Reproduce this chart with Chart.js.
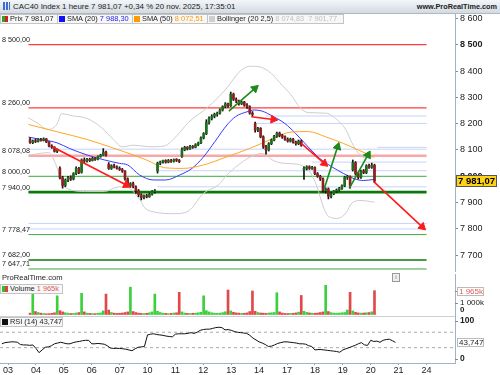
<!DOCTYPE html>
<html>
<head>
<meta charset="utf-8">
<title>CAC40 Index 1 heure</title>
<script src="https://cdn.jsdelivr.net/npm/chart.js@4.4.1/dist/chart.umd.min.js"></script>
<style>
  body { margin:0; width:500px; height:375px; position:relative; overflow:hidden; background:#fff;
         font-family:"Liberation Sans", Arial, sans-serif; color:#222; }
  .abs { position:absolute; }
  #title { left:0; top:0; width:500px; height:14px; box-sizing:border-box; z-index:3;
           background:linear-gradient(#f3f6f9,#d4dae1); border-bottom:1px solid #aeb8c2;
           font-size:7.9px; line-height:13px; }
  #title .ico { position:absolute; left:3px; top:2px; width:7px; height:8px;
                background:linear-gradient(90deg,#3a6fd0 0 2px,transparent 2px 3px,#3a6fd0 3px 5px,transparent 5px 6px,#3a6fd0 6px); }
  #title .txt { position:absolute; left:13px; top:0; }
  #title .site { position:absolute; right:3px; top:0; font-weight:bold; font-size:7.3px; }
  .lg { position:absolute; height:10px; box-sizing:border-box; border:1px solid #c4c4c4; background:#f7f7f7;
        font-size:7.4px; line-height:8px; white-space:nowrap; padding-left:1px; z-index:3; overflow:hidden; }
  .sq { display:inline-block; width:6px; height:6px; margin-right:2px; vertical-align:-0.5px; }
  #site2 { left:2px; top:273px; font-size:7.6px; z-index:3; }
  #info { left:392px; top:273px; width:6px; height:7px; border:1px solid #999; background:#eee;
          font-size:6px; line-height:7px; text-align:center; color:#666; z-index:3; }
</style>
</head>
<body>
<div id="title" class="abs"><span class="ico"></span><span class="txt">CAC40 Index 1 heure 7 981,07 +0,34 % 20 nov. 2025, 17:35:01</span><span class="site">www.ProRealTime.com</span></div>

<div class="abs" style="left:0;top:0;width:500px;height:272px"><canvas id="price"></canvas></div>
<div class="abs" style="left:0;top:272px;width:500px;height:44px"><canvas id="vol"></canvas></div>
<div class="abs" style="left:0;top:316px;width:500px;height:59px"><canvas id="rsi"></canvas></div>

<div class="lg" style="left:0;top:14px;width:58px"><span class="sq" style="background:linear-gradient(90deg,#22a822 50%,#d42020 50%)"></span>Prix 7 981,07</div>
<div class="lg" style="left:57px;top:14px;width:76px"><span class="sq" style="background:#1010ff"></span>SMA (20) <span style="color:#2222ee">7 988,30</span></div>
<div class="lg" style="left:132px;top:14px;width:76px"><span class="sq" style="background:#ff9a00"></span>SMA (50) <span style="color:#ff9a00">8 072,51</span></div>
<div class="lg" style="left:207px;top:14px;width:137px"><span class="sq" style="background:#cfcfcf"></span>Bollinger (20 2,5) <span style="color:#c0c0c0">8 074,83 &nbsp;7 901,77</span></div>

<div id="site2" class="abs">ProRealTime.com</div>
<div id="info" class="abs">i</div>
<div class="lg" style="left:0;top:284px;width:63px"><span class="sq" style="background:linear-gradient(90deg,#22c822 50%,#e04040 50%)"></span>Volume <span style="color:#e05a5a">1 965k</span></div>
<div class="lg" style="left:0;top:317px;width:63px"><span class="sq" style="background:#111"></span>RSI (14) 43,747</div>

<script>
// Hourly bars: 31 oct (2 bars) then 14 sessions of 9 bars, 03 -> 20 nov
const opens = [8140,8128,
  8135,8132,8140,8136,8142,8130,8115,8110,8095,
  8030,7995,7965,7985,7995,7990,8010,8030,8015,
  8062,8058,8065,8060,8068,8064,8075,8080,8092,
  8045,8030,8040,8035,8030,8026,8020,7990,7965,
  7972,7960,7945,7930,7918,7926,7922,7932,7942,
  8020,8050,8055,8060,8054,8060,8057,8063,8061,
  8075,8100,8110,8104,8114,8110,8120,8126,8146,
  8162,8205,8220,8228,8236,8240,8252,8265,8275,
  8268,8312,8292,8286,8276,8282,8270,8264,8240,
  8200,8176,8182,8150,8112,8100,8124,8138,8152,
  8164,8155,8150,8140,8134,8141,8130,8124,8134,
  8024,8030,8036,8030,8034,8010,8000,7990,7946,
  7952,7924,7934,7944,7948,7955,7964,7996,8000,
  8025,8052,8010,7996,8020,8014,8040,8034,8042];
const highs = [8146,8138,
  8142,8143,8144,8146,8144,8132,8120,8113,8104,
  8036,8000,7990,8000,8002,8014,8036,8034,8066,
  8070,8068,8069,8072,8071,8078,8084,8105,8096,
  8052,8044,8046,8040,8036,8030,8022,7994,7976,
  7978,7964,7950,7934,7930,7932,7936,7946,7950,
  8054,8058,8062,8063,8064,8064,8066,8067,8064,
  8108,8114,8113,8118,8117,8124,8130,8150,8166,
  8215,8226,8234,8240,8244,8256,8268,8280,8278,
  8320,8316,8298,8290,8286,8285,8276,8268,8246,
  8206,8186,8185,8154,8118,8128,8142,8156,8168,
  8168,8160,8154,8146,8145,8144,8134,8138,8138,
  8036,8040,8040,8038,8036,8014,8004,7994,7956,
  7956,7938,7946,7952,7958,7968,8000,8004,8002,
  8062,8056,8016,8024,8026,8044,8046,8050,8046];
const lows = [8125,8124,
  8128,8130,8133,8134,8128,8112,8106,8092,8090,
  7990,7955,7960,7980,7984,7986,8006,8010,8012,
  8052,8054,8056,8058,8060,8062,8072,8078,8076,
  8026,8026,8032,8027,8022,8015,7985,7960,7958,
  7956,7935,7922,7910,7914,7918,7920,7928,7936,
  8012,8044,8050,8050,8051,8053,8054,8056,8052,
  8072,8097,8100,8102,8106,8108,8116,8124,8142,
  8158,8198,8214,8222,8228,8236,8248,8260,8262,
  8265,8288,8280,8270,8272,8266,8258,8236,8228,
  8168,8170,8146,8106,8084,8096,8120,8134,8148,
  8150,8144,8136,8130,8130,8126,8118,8120,8114,
  7988,8024,8026,8026,8006,7996,7984,7940,7936,
  7914,7918,7930,7938,7944,7950,7960,7988,7955,
  8020,8005,7990,7992,8010,8010,8030,8030,7976];
const closes = [8128,8135,
  8132,8140,8136,8142,8130,8115,8110,8095,8100,
  7995,7965,7985,7995,7990,8010,8030,8015,8062,
  8058,8065,8060,8068,8064,8075,8080,8092,8080,
  8030,8040,8035,8030,8026,8020,7990,7965,7972,
  7960,7945,7930,7918,7926,7922,7932,7942,7946,
  8050,8055,8060,8054,8060,8057,8063,8061,8056,
  8100,8110,8104,8114,8110,8120,8126,8146,8162,
  8205,8220,8228,8236,8240,8252,8265,8275,8268,
  8312,8292,8286,8276,8282,8270,8264,8240,8235,
  8176,8182,8150,8112,8100,8124,8138,8152,8164,
  8155,8150,8140,8134,8141,8130,8124,8134,8118,
  8030,8036,8030,8034,8010,8000,7990,7946,7952,
  7924,7934,7944,7948,7955,7964,7996,8000,7965,
  8052,8010,7996,8020,8014,8040,8034,8042,7981.07];
// volume in thousands
const volumes = [150,1750,
  280,200,150,120,100,110,130,180,1550,
  350,250,180,150,120,130,160,200,1750,
  250,150,130,120,110,140,170,330,1690,
  400,200,150,130,140,160,200,250,2250,
  280,200,150,130,120,140,180,250,1690,
  300,200,150,130,110,130,160,180,1830,
  250,160,130,120,140,150,180,220,1550,
  350,250,180,150,140,150,190,260,2020,
  330,220,170,150,130,140,170,280,1940,
  300,200,160,150,130,160,180,200,1800,
  250,160,130,120,130,140,170,230,1580,
  300,210,170,150,140,160,200,250,2400,
  280,190,150,140,160,180,200,400,1830,
  330,220,170,150,160,180,200,260,1965];
const rsi = [40,43,
  44,45,45,44,38,37,37,36,37,
  28,17,24,31,32,35,40,42,44,
  42,40,40,43,45,46,48,49,49,
  40,40,41,40,39,35,29,28,28,
  28,27,26,24,22,27,31,32,33,
  63,65,66,64,63,62,60,59,58,
  65,66,66,66,67,69,67,70,75,
  77,78,78,80,82,83,82,76,77,
  75,72,70,69,68,67,62,55,50,
  45,42,38,33,34,37,41,43,45,
  45,44,43,42,40,40,39,35,33,
  24,25,25,24,23,22,21,20,18,
  24,27,30,33,36,40,43,37,36,
  49,46,47,44,49,51,52,48,43.747];

// indicator lines: [bar, value]
const sma20 = [[-0.6,8149],[4,8140],[10,8127],[14.5,8106],[21,8081],[27.5,8062],[33,8049],[36,8043],
  [40.4,8005],[45.5,7986],[50,7986],[55.2,8005],[59.7,8030],[63.9,8073],[68.1,8131],[72.6,8195],
  [75.8,8227],[80,8245],[82.6,8252],[85.5,8248],[89.7,8227],[93.9,8201],[97.8,8164],[102.6,8111],
  [106.8,8068],[111.3,8036],[115.5,8011],[119.7,7990],[122.9,7984],[127,7988.3]];
const sma50 = [[-0.6,8197],[10,8169],[21,8140],[31.6,8104],[38.1,8081],[42.9,8062],[50,8032],
  [56.5,8030],[63.9,8043],[72.6,8074],[81,8106],[89.7,8144],[96.2,8168],[102.6,8170],[109,8150],
  [115.5,8125],[121,8100],[127,8072.51]];
const bollUp = [[-0.6,8222],[2.6,8203],[6.8,8178],[10,8200],[11.6,8238],[15.5,8230],[21,8220],
  [26.2,8186],[30.7,8140],[33.9,8112],[38.1,8118],[44.6,8112],[49.4,8115],[54.2,8155],[58.4,8205],
  [65.5,8262],[72.6,8336],[77,8395],[81,8418],[85,8415],[89,8390],[93,8345],[96.2,8310],[99.4,8262],
  [102.6,8242],[109,8240],[113.3,8214],[116.5,8176],[118.7,8127],[121,8089],[123.6,8070],[127,8074.83]];
const bollLow = [[-0.6,8080],[6.8,8090],[9.7,8040],[11.3,7990],[13.3,7955],[21,7942],[27.5,7942],
  [32.6,7960],[35.8,7958],[40.4,7912],[42.3,7880],[45.5,7865],[53.3,7858],[58.4,7868],[63.9,7935],
  [69.4,7967],[72.6,8005],[76.8,8043],[81,8072],[85.5,8087],[89.7,8060],[93,8050],[96.2,8048],
  [100.4,8040],[103.6,8010],[105.8,7960],[108.1,7885],[110,7848],[113.3,7840],[116.5,7861],
  [118.7,7899],[122,7908],[127,7901.77]];

// drawn levels and trend arrows [bar0, price0, bar1, price1]
const hLevels = [8500, 8260, 8078.08, 8000, 7940, 7778.47, 7682, 7647.71];
const blueLevels = [8229, 8201, 8110, 8103, 8054, 8021, 7960, 7821, 7800];
const blueStart = [87, 83, 128, -0.6, 104, 47, 47, -0.6, -0.6];
const arrowsRed = [[8.4,8111,35.5,7967],[81.6,8226,89.7,8216],[100,8125,108.5,8049],[126.8,7979,144.6,7808]];
const arrowsGreen = [[73.3,8248,82.9,8334],[108.5,7954,113.4,8112],[117.7,7954,124.6,8081]];

const dayLabels = ['03','04','05','06','07','10','11','12','13','14','17','18','19','20','21','24'];
const dayStart = [2,11,20,29,38,47,56,65,74,83,92,101,110,119,128,137];
const priceTicks = [7700,7800,7900,8000,8100,8200,8300,8400,8500,8600];

// styles
const hColors = ['#ff3b3b','#ff3b3b','#f6a8a8','#3da83d','#0a780a','#3da83d','#0a780a','#3da83d'];
const hWidths = [1.2, 1.2, 2.6, 1, 2.6, 1, 1.6, 1];
const UP = '#1f6e1f', DOWN = '#921f1f', VUP = '#3cd03c', VDOWN = '#e24848';
const AXIS = '#a3b2c2';
const FONT = '"Liberation Sans", Arial, sans-serif';
const X_MIN = -0.6, X_MAX = 146.2;

Chart.defaults.font.family = FONT;
Chart.defaults.font.size = 9;
Chart.defaults.color = '#222';
Chart.defaults.animation = false;
Chart.defaults.layout.autoPadding = false;
Chart.defaults.plugins.legend.display = false;
Chart.defaults.plugins.tooltip.enabled = false;

function fmt(v, d) {
  return v.toFixed(d).replace('.', ',').replace(/\B(?=(\d{3})+(?!\d))/g, ' ');
}
const idx = closes.map((c, i) => i);
const isUp = i => closes[i] >= opens[i];
const pts = arr => arr.map(([x, y]) => ({ x, y }));
const seg = (x0, v) => [{ x: x0, y: v }, { x: X_MAX, y: v }];
// fixed right axis width, no extra room for the outer tick labels
const fitRight = s => { s.width = 45; s.paddingTop = 0; s.paddingBottom = 0; };

function lineDs(data, color, width, order) {
  return { type: 'line', data, borderColor: color, borderWidth: width, pointRadius: 0,
           fill: false, order, cubicInterpolationMode: 'monotone' };
}
function arrowDs(a, color) {
  return {
    type: 'line', data: [{ x: a[0], y: a[1] }, { x: a[2], y: a[3] }],
    borderColor: color, backgroundColor: color, borderWidth: 1.6, order: 0,
    pointRadius: [0, 4.5], pointHoverRadius: 0, pointStyle: 'triangle',
    pointBorderColor: color, pointBorderWidth: 1,
    pointRotation: ctx => {
      const { x, y } = ctx.chart.scales;
      const d = ctx.dataset.data;
      const dx = x.getPixelForValue(d[1].x) - x.getPixelForValue(d[0].x);
      const dy = y.getPixelForValue(d[1].y) - y.getPixelForValue(d[0].y);
      return Math.atan2(dx, -dy) * 180 / Math.PI;
    }
  };
}

// labels of the drawn levels + last price tag
const priceOverlay = {
  id: 'priceOverlay',
  afterDraw(chart) {
    const { ctx, scales: { y } } = chart;
    ctx.save();
    ctx.font = '7.2px ' + FONT;
    ctx.fillStyle = '#222';
    hLevels.forEach(v => ctx.fillText(fmt(v, 2), 2, y.getPixelForValue(v) - 2.5));
    const last = closes[closes.length - 1];
    const py = Math.round(y.getPixelForValue(last));
    ctx.fillStyle = '#ffd21a';
    ctx.fillRect(456, py - 6, 41, 12);
    ctx.strokeStyle = '#555';
    ctx.lineWidth = 1;
    ctx.strokeRect(456.5, py - 5.5, 40, 11);
    ctx.fillStyle = '#000';
    ctx.font = 'bold 9.5px ' + FONT;
    ctx.textBaseline = 'middle';
    ctx.fillText(fmt(last, 2), 458, py + 0.5);
    ctx.restore();
  }
};

const datasets = [];
hLevels.forEach((v, k) => datasets.push(lineDs(seg(X_MIN, v), hColors[k], hWidths[k], 5)));
blueLevels.forEach((v, k) => datasets.push(lineDs(seg(blueStart[k], v), '#c7d3fa', 1, 6)));
datasets.push(lineDs(pts(bollUp), '#cdcdcd', 1, 4));
datasets.push(lineDs(pts(bollLow), '#cdcdcd', 1, 4));
datasets.push(lineDs(pts(sma50), '#ffa526', 1, 3));
datasets.push(lineDs(pts(sma20), '#3a3aff', 1, 3));
datasets.push({ type: 'bar', data: idx.map(i => ({ x: i, y: [lows[i], highs[i]] })),
  backgroundColor: '#111', barThickness: 1, grouped: false, order: 2 });
datasets.push({ type: 'bar', data: idx.map(i => ({ x: i, y: [opens[i], closes[i]] })),
  backgroundColor: idx.map(i => isUp(i) ? UP : DOWN), barThickness: 2, minBarLength: 1,
  grouped: false, order: 1 });
arrowsRed.forEach(a => datasets.push(arrowDs(a, '#ff1a1a')));
arrowsGreen.forEach(a => datasets.push(arrowDs(a, '#1a8a1a')));

new Chart(document.getElementById('price'), {
  type: 'bar',
  data: { datasets },
  options: {
    responsive: true, maintainAspectRatio: false,
    layout: { padding: { top: 13, left: 0, bottom: 0 } },
    scales: {
      x: { type: 'linear', min: X_MIN, max: X_MAX, display: false },
      y: {
        position: 'right', min: 7636.3, max: 8620.5, afterFit: fitRight,
        afterBuildTicks: s => { s.ticks = priceTicks.map(v => ({ value: v })); },
        ticks: { padding: 2, color: '#222', callback: v => fmt(v, 0),
          font: c => ({ size: 9, weight: c.tick && c.tick.value % 500 === 0 ? 'bold' : 'normal' }) },
        grid: { drawOnChartArea: false, tickLength: 3, color: '#888' },
        border: { color: AXIS }
      }
    }
  },
  plugins: [priceOverlay]
});

// volume panel
const volAxis = {
  id: 'volAxis',
  afterDraw(chart) {
    const { ctx, scales: { y } } = chart;
    ctx.save();
    ctx.strokeStyle = '#888';
    ctx.lineWidth = 1;
    const mark = py => { ctx.beginPath(); ctx.moveTo(455, py + 0.5); ctx.lineTo(458, py + 0.5); ctx.stroke(); };
    const lastV = volumes[volumes.length - 1];
    let py = Math.round(y.getPixelForValue(lastV));
    mark(py);
    ctx.fillStyle = '#fff';
    ctx.fillRect(457, py - 4, 27, 9);
    ctx.strokeStyle = '#bbb';
    ctx.strokeRect(457.5, py - 3.5, 26, 8);
    ctx.font = '8px ' + FONT;
    ctx.textBaseline = 'middle';
    ctx.fillStyle = '#e05a5a';
    ctx.fillText(fmt(lastV, 0) + 'k', 459, py + 0.5);
    ctx.strokeStyle = '#888';
    py = Math.round(y.getPixelForValue(1000));
    mark(py);
    ctx.fillStyle = '#222';
    ctx.fillText('1 000k', 460, py);
    ctx.font = 'bold 8px ' + FONT;
    ctx.fillText('0', 460, y.getPixelForValue(0) - 5);
    ctx.restore();
  }
};

new Chart(document.getElementById('vol'), {
  type: 'bar',
  data: { datasets: [{ data: idx.map(i => ({ x: i, y: volumes[i] })),
    backgroundColor: idx.map(i => isUp(i) ? VUP : VDOWN), barThickness: 2 }] },
  options: {
    responsive: true, maintainAspectRatio: false,
    layout: { padding: { top: 2, bottom: 1 } },
    scales: {
      x: { type: 'linear', min: X_MIN, max: X_MAX, display: false },
      y: { position: 'right', min: 0, max: 3315, afterFit: fitRight,
        ticks: { display: false },
        grid: { drawOnChartArea: false, drawTicks: false },
        border: { color: AXIS } }
    }
  },
  plugins: [volAxis]
});

// RSI panel
const rsiAxis = {
  id: 'rsiAxis',
  afterDraw(chart) {
    const { ctx, scales: { y }, chartArea } = chart;
    ctx.save();
    ctx.strokeStyle = '#888';
    ctx.lineWidth = 1;
    ctx.fillStyle = '#222';
    ctx.textBaseline = 'middle';
    ctx.font = 'bold 8.5px ' + FONT;
    [100, 0].forEach(v => {
      const py = Math.round(y.getPixelForValue(v));
      ctx.beginPath(); ctx.moveTo(455, py + 0.5); ctx.lineTo(458, py + 0.5); ctx.stroke();
      ctx.fillText(String(v), 460, py);
    });
    const lastR = rsi[rsi.length - 1];
    const py = Math.round(y.getPixelForValue(lastR));
    ctx.fillStyle = '#fff';
    ctx.fillRect(457, py - 4, 27, 9);
    ctx.strokeStyle = '#bbb';
    ctx.strokeRect(457.5, py - 3.5, 26, 8);
    ctx.fillStyle = '#222';
    ctx.font = '8px ' + FONT;
    ctx.fillText(fmt(lastR, 3), 459, py + 0.5);
    // top separator of the panel
    ctx.strokeStyle = '#c9d0d8';
    ctx.beginPath(); ctx.moveTo(0, chartArea.top + 0.5); ctx.lineTo(455, chartArea.top + 0.5); ctx.stroke();
    ctx.restore();
  }
};

new Chart(document.getElementById('rsi'), {
  type: 'line',
  data: { datasets: [
    { data: idx.map(i => ({ x: i, y: rsi[i] })), borderColor: '#111', borderWidth: 1, pointRadius: 0 },
    { data: seg(X_MIN, 70), borderColor: '#aaa', borderWidth: 1, borderDash: [3, 3], pointRadius: 0 },
    { data: seg(X_MIN, 30), borderColor: '#aaa', borderWidth: 1, borderDash: [3, 3], pointRadius: 0 }
  ] },
  options: {
    responsive: true, maintainAspectRatio: false,
    layout: { padding: { top: 0, bottom: 0 } },
    scales: {
      x: { type: 'linear', min: X_MIN, max: X_MAX, afterFit: s => { s.height = 12; },
        afterBuildTicks: s => { s.ticks = dayStart.map(v => ({ value: v })); },
        ticks: { autoSkip: false, maxRotation: 0, padding: 0, color: '#222', font: { size: 9 },
          callback: (v, k) => dayLabels[k] },
        grid: { drawOnChartArea: false, tickLength: 2, color: '#999' },
        border: { color: AXIS } },
      y: { position: 'right', min: -9.9, max: 112.2, afterFit: fitRight,
        ticks: { display: false },
        grid: { drawOnChartArea: false, drawTicks: false },
        border: { color: AXIS } }
    }
  },
  plugins: [rsiAxis]
});
</script>
</body>
</html>
